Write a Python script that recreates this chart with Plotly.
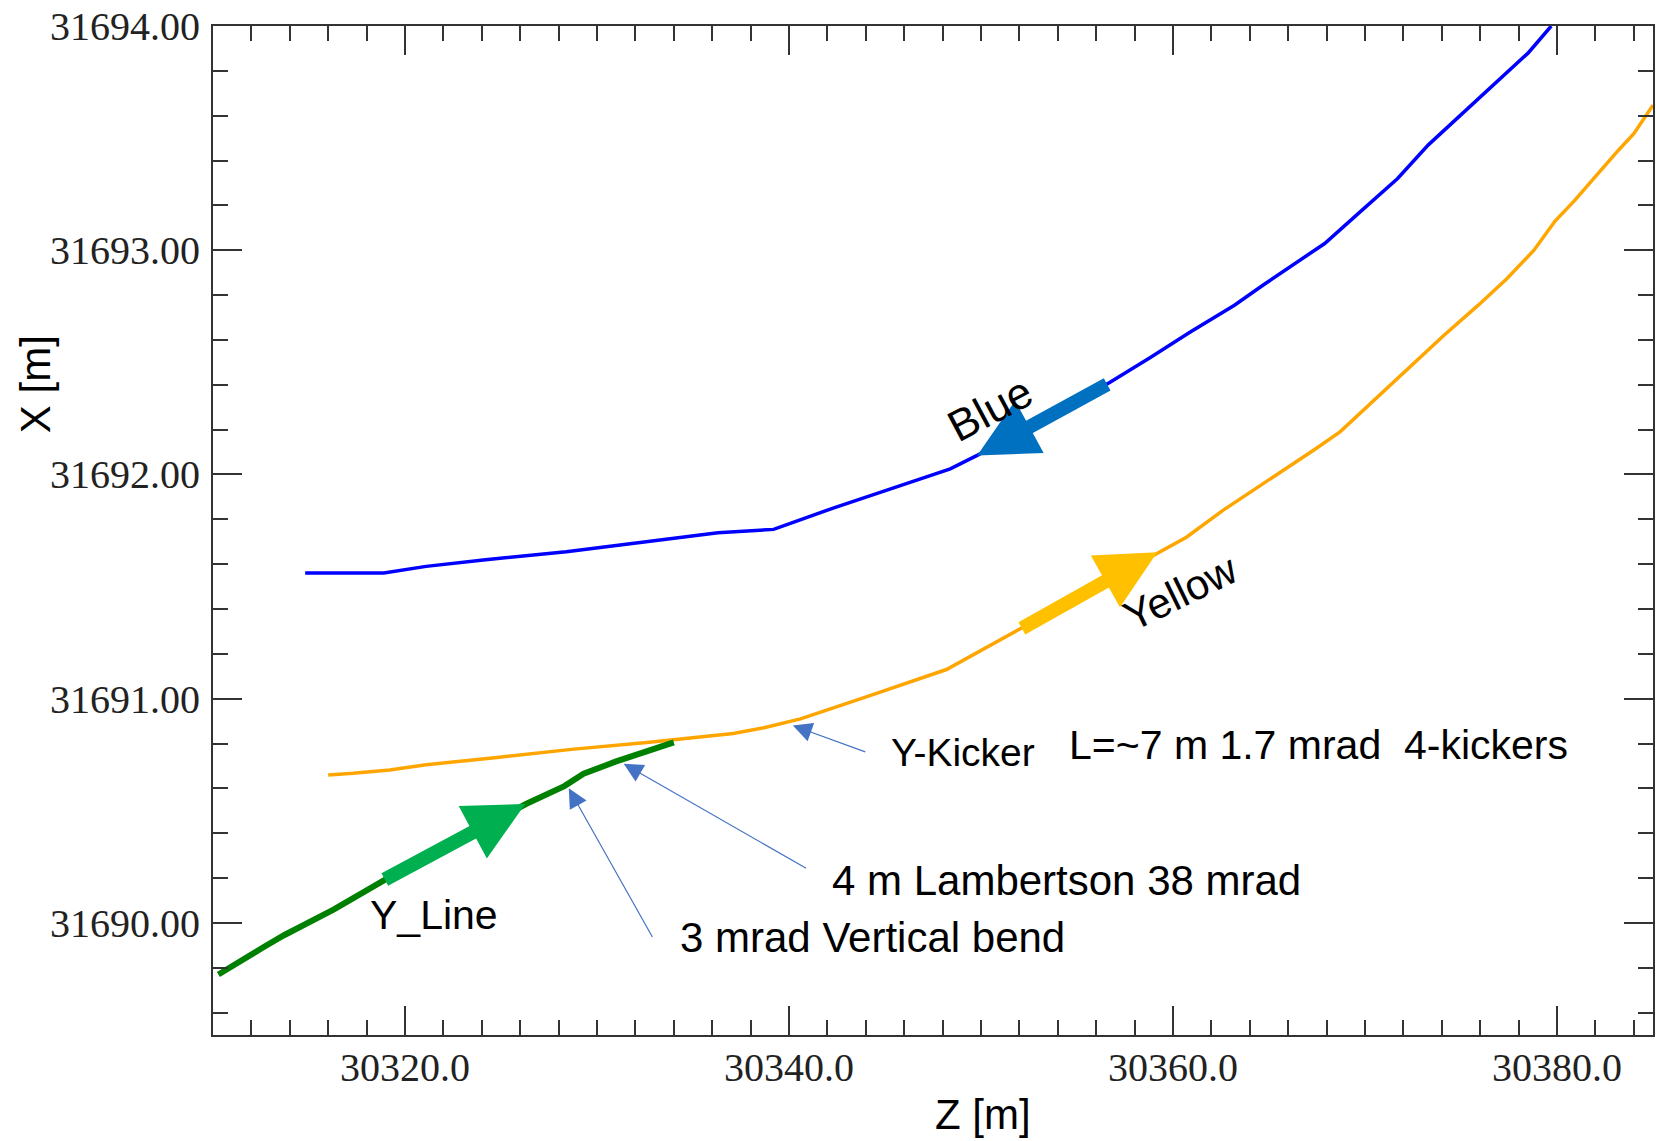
import plotly.graph_objects as go

# ---------------- data ----------------
blue_z = [30314.8, 30318.9, 30321.1, 30324.2, 30328.4, 30332.6, 30336.3, 30339.2,
          30342.3, 30345.8, 30348.4, 30349.8, 30353.2, 30356.7, 30358.8, 30360.9,
          30363.2, 30364.7, 30366.5, 30367.9, 30369.6, 30371.7, 30373.3, 30375.2,
          30377.1, 30378.5, 30379.7]
blue_x = [31691.56, 31691.56, 31691.59, 31691.62, 31691.655, 31691.70, 31691.74, 31691.755,
          31691.85, 31691.95, 31692.025, 31692.085, 31692.24, 31692.41, 31692.52, 31692.635,
          31692.755, 31692.845, 31692.95, 31693.03, 31693.16, 31693.32, 31693.47, 31693.62,
          31693.77, 31693.88, 31694.0]

yellow_z = [30316.0, 30317.3, 30319.2, 30321.1, 30324.8, 30328.8, 30332.6, 30337.1,
            30338.7, 30340.6, 30344.1, 30348.2, 30352.0, 30355.6, 30359.2, 30360.7,
            30362.6, 30364.2, 30365.8, 30367.3, 30368.7, 30371.2, 30372.7, 30374.1,
            30375.9, 30377.4, 30378.8, 30379.9, 30380.9, 30382.1, 30383.2, 30384.0, 30385.0]
yellow_x = [31690.66, 31690.667, 31690.682, 31690.705, 31690.738, 31690.775, 31690.805, 31690.845,
            31690.87, 31690.91, 31691.01, 31691.13, 31691.31, 31691.48, 31691.65, 31691.72,
            31691.84, 31691.93, 31692.02, 31692.107, 31692.19, 31692.39, 31692.51, 31692.62,
            31692.755, 31692.874, 31693.0, 31693.13, 31693.22, 31693.34, 31693.446, 31693.52, 31693.647]

yline_z = [30310.28, 30311.4, 30312.6, 30313.7, 30316.3, 30318.9, 30322.6, 30326.3, 30328.3,
           30329.3, 30331.0, 30334.0]
yline_x = [31689.77, 31689.83, 31689.89, 31689.945, 31690.06, 31690.19, 31690.36, 31690.53, 31690.61,
           31690.665, 31690.72, 31690.805]

# direction arrows: (tail z, tail x, tip z, tip x)
dir_arrows = {
    "Blue":   (30356.65, 31692.405, 30349.8, 31692.085),
    "Yellow": (30352.05, 31691.31, 30359.18, 31691.653),
    "Y_Line": (30318.87, 31690.19, 30326.26, 31690.53),
}
# pointer arrows: (tail z, tail x, tip z, tip x)
pointer_arrows = {
    "Y-Kicker":   (30344.05, 31690.76, 30340.2, 31690.88),
    "Lambertson": (30340.97, 31690.24, 30331.39, 31690.71),
    "Vbend":      (30332.93, 31689.93, 30328.53, 31690.60),
}

x_ticks = [30320, 30340, 30360, 30380]
x_ticklabels = ["30320.0", "30340.0", "30360.0", "30380.0"]
y_ticks = [31690, 31691, 31692, 31693, 31694]
y_ticklabels = ["31690.00", "31691.00", "31692.00", "31693.00", "31694.00"]

# ---------------- figure ----------------
fig = go.Figure()
fig.add_trace(go.Scatter(x=blue_z, y=blue_x, mode="lines",
                         line=dict(color="#0000FF", width=3.5), showlegend=False))
fig.add_trace(go.Scatter(x=yellow_z, y=yellow_x, mode="lines",
                         line=dict(color="#FFA500", width=3.5), showlegend=False))
fig.add_trace(go.Scatter(x=yline_z, y=yline_x, mode="lines",
                         line=dict(color="#008000", width=6), showlegend=False))

dir_colors = {"Blue": "#0070C0", "Yellow": "#FFC000", "Y_Line": "#00B050"}
annotations = []
for name, (tz, tx, hz, hx) in dir_arrows.items():
    annotations.append(dict(x=hz, y=hx, ax=tz, ay=tx, xref="x", yref="y",
                            axref="x", ayref="y", text="", showarrow=True,
                            arrowhead=2, arrowsize=0.85, arrowwidth=14,
                            arrowcolor=dir_colors[name], standoff=0))
for name, (tz, tx, hz, hx) in pointer_arrows.items():
    annotations.append(dict(x=hz, y=hx, ax=tz, ay=tx, xref="x", yref="y",
                            axref="x", ayref="y", text="", showarrow=True,
                            arrowhead=2, arrowsize=3.2, arrowwidth=1.2,
                            arrowcolor="#4472C4", standoff=0))

fam = "Liberation Sans, Arial, sans-serif"
labels = [
    ("Blue", 30350.49, 31692.293, "center", -28, 44),
    ("Yellow", 30360.39, 31691.475, "center", -26, 42),
    ("Y_Line", 30321.49, 31690.033, "center", 0, 41),
    ("Y-Kicker", 30345.2, 31690.76, "left", 0, 39),
    ("L=~7 m 1.7 mrad\u00a0\u00a04-kickers", 30354.5, 31690.795, "left", 0, 41),
    ("4 m Lambertson 38 mrad", 30342.12, 31690.189, "left", 0, 42),
    ("3 mrad Vertical bend", 30334.2, 31689.934, "left", 0, 42),
]
for text, z, x, anc, ang, sz in labels:
    annotations.append(dict(x=z, y=x, xref="x", yref="y", text=text, showarrow=False,
                            xanchor=anc, yanchor="middle", textangle=ang,
                            font=dict(family=fam, size=sz, color="#000000")))

# axis titles
annotations.append(dict(x=-0.1236, y=0.645, xref="paper", yref="paper", text="X [m]",
                        showarrow=False, textangle=-90, xanchor="center", yanchor="middle",
                        font=dict(family=fam, size=42, color="#000000")))
annotations.append(dict(x=0.5347, y=-0.0783, xref="paper", yref="paper", text="Z [m]",
                        showarrow=False, xanchor="center", yanchor="middle",
                        font=dict(family=fam, size=42, color="#000000")))

tick_font = dict(family="Liberation Serif, Times New Roman, serif", size=40, color="#222222")
axis_common = dict(showgrid=False, zeroline=False, showline=True, linecolor="#333333",
                   linewidth=2, mirror="allticks", ticks="inside", ticklen=29,
                   tickwidth=2, tickcolor="#333333", tickfont=tick_font)

fig.update_layout(
    width=1656, height=1141,
    margin=dict(l=213, r=3, t=26, b=106),
    paper_bgcolor="white", plot_bgcolor="white",
    xaxis=dict(range=[30310, 30385], tickvals=x_ticks, ticktext=x_ticklabels,
               minor=dict(ticks="inside", ticklen=15, dtick=2, tick0=30320,
                          tickwidth=2, tickcolor="#333333"),
               ticklabelstandoff=-4, automargin=False, **axis_common),
    yaxis=dict(range=[31689.5, 31694], tickvals=y_ticks, ticktext=y_ticklabels,
               minor=dict(ticks="inside", ticklen=15, dtick=0.2, tick0=31690,
                          tickwidth=2, tickcolor="#333333"),
               ticklabelstandoff=3, automargin=False, **axis_common),
    annotations=annotations,
)

fig.write_html("out.html", config={"displayModeBar": False},
               post_script="document.body.style.margin='0px';document.body.style.overflow='hidden';")
